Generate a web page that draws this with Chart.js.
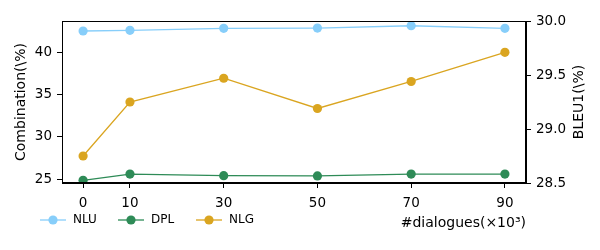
<!DOCTYPE html>
<html>
<head>
<meta charset="utf-8">
<script src="https://cdn.jsdelivr.net/npm/chart.js@4"></script>
<style>
html,body{margin:0;padding:0;background:#fff;}
#wrap{width:600px;height:250px;position:relative;}
</style>
</head>
<body>
<div id="wrap"><canvas id="c" width="600" height="250"></canvas></div>
<script>
const dialogues = [0, 10, 30, 50, 70, 90];
const nluValues = [42.52, 42.60, 42.83, 42.87, 43.14, 42.83];
const dplValues = [24.88, 25.62, 25.43, 25.39, 25.62, 25.62];
const nlgValues = [28.75, 29.25, 29.47, 29.19, 29.44, 29.71];
const leftTicks = [25, 30, 35, 40];
const rightTicks = [28.5, 29.0, 29.5, 30.0];
const seriesNames = ['NLU', 'DPL', 'NLG'];
const seriesColors = ['#87CEFA', '#2E8B57', '#DAA520'];

const FONT = 'DejaVu Sans';
const pts = vals => dialogues.map((d, i) => ({x: d, y: vals[i]}));

function ds(i, vals, axis) {
  return {
    label: seriesNames[i], data: pts(vals), yAxisID: axis,
    borderColor: seriesColors[i], backgroundColor: seriesColors[i],
    pointBackgroundColor: seriesColors[i], pointBorderColor: seriesColors[i],
    borderWidth: 1.3, pointRadius: 4.6, pointHoverRadius: 4.6, pointBorderWidth: 0,
    tension: 0, fill: false
  };
}

const extras = {
  id: 'extras',
  afterDraw(chart) {
    const ctx = chart.ctx, a = chart.chartArea;
    ctx.save();
    ctx.strokeStyle = '#000'; ctx.lineWidth = 1;
    ctx.strokeRect(Math.round(a.left) + 0.5, Math.round(a.top) + 0.5,
                   Math.round(a.right - a.left) - 1, Math.round(a.bottom - a.top) - 1);
    // right axis title
    ctx.fillStyle = '#000';
    ctx.font = '14px "' + FONT + '"';
    ctx.textAlign = 'center'; ctx.textBaseline = 'middle';
    ctx.translate(579, (a.top + a.bottom) / 2);
    ctx.rotate(-Math.PI / 2);
    ctx.fillText('BLEU1(\\%)', 0, 0);
    ctx.restore();
    // legend
    ctx.save();
    const ly = 220;
    const mx = [53, 131, 209];
    ctx.font = '12px "' + FONT + '"';
    ctx.textBaseline = 'middle'; ctx.textAlign = 'left';
    seriesNames.forEach((n, i) => {
      ctx.strokeStyle = seriesColors[i]; ctx.lineWidth = 1.3;
      ctx.beginPath(); ctx.moveTo(mx[i] - 13, ly); ctx.lineTo(mx[i] + 13, ly); ctx.stroke();
      ctx.fillStyle = seriesColors[i];
      ctx.beginPath(); ctx.arc(mx[i], ly, 4.6, 0, Math.PI * 2); ctx.fill();
      ctx.fillStyle = '#000';
      ctx.fillText(n, mx[i] + 20, ly);
    });
    ctx.restore();
  }
};

new Chart(document.getElementById('c'), {
  type: 'line',
  data: { datasets: [ds(0, nluValues, 'yL'), ds(1, dplValues, 'yL'), ds(2, nlgValues, 'yR')] },
  options: {
    responsive: false, animation: false, devicePixelRatio: 1,
    layout: { padding: { top: 21, left: 0, right: 0, bottom: 0 } },
    plugins: { legend: { display: false }, tooltip: { enabled: false } },
    scales: {
      x: {
        type: 'linear', min: -4.5, max: 94.5, position: 'bottom',
        afterBuildTicks: s => { s.ticks = dialogues.map(v => ({value: v})); },
        afterFit: s => { s.height = 67; },
        grid: { drawOnChartArea: false, color: '#000', tickLength: 5, tickWidth: 1 },
        border: { display: true, color: '#000', width: 1 },
        ticks: { color: '#000', font: { family: FONT, size: 13.5 }, padding: 7, maxRotation: 0,
                 callback: v => String(v) },
        title: { display: true, text: '#dialogues(×10³)', align: 'end', color: '#000',
                 font: { family: FONT, size: 14 }, padding: { top: 0, bottom: 18.6 } }
      },
      yL: {
        type: 'linear', position: 'left', min: 24.56, max: 43.7,
        afterBuildTicks: s => { s.ticks = leftTicks.map(v => ({value: v})); },
        afterFit: s => { s.width = 62; },
        grid: { drawOnChartArea: false, color: '#000', tickLength: 5, tickWidth: 1 },
        border: { display: true, color: '#000', width: 1 },
        ticks: { color: '#000', font: { family: FONT, size: 13.5 }, padding: 5,
                 callback: v => String(v) },
        title: { display: true, text: 'Combination(\\%)', color: '#000',
                 font: { family: FONT, size: 14 }, padding: { top: 12.6, bottom: 0 } }
      },
      yR: {
        type: 'linear', position: 'right', min: 28.5, max: 30.0,
        afterBuildTicks: s => { s.ticks = rightTicks.map(v => ({value: v})); },
        afterFit: s => { s.width = 74; },
        grid: { drawOnChartArea: false, color: '#000', tickLength: 5, tickWidth: 1 },
        border: { display: true, color: '#000', width: 1 },
        ticks: { color: '#000', font: { family: FONT, size: 13.5 }, padding: 5,
                 callback: v => Number(v).toFixed(1) }
      }
    }
  },
  plugins: [extras]
});
</script>
</body>
</html>
